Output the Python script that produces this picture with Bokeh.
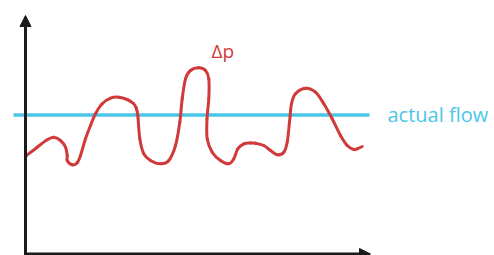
from bokeh.plotting import figure
from bokeh.models import Range1d, Arrow, NormalHead, Label
from bokeh.embed import file_html
from bokeh.resources import INLINE

# Measured pressure difference (Δp) over time, arbitrary units
t = [1, 11.7, 21.7, 28.3, 35, 40, 41.7, 41.7, 46.7, 51.7, 55, 60, 65, 70, 76.7,
     85, 93.3, 101.7, 108, 110.5, 112.3, 114.3, 118.3, 125, 135, 143.3, 150,
     154.3, 156.7, 160, 165, 173.3, 180, 183.3, 183.3, 181.5, 181.7, 186.7,
     195, 203.3, 208.3, 212.3, 218.3, 225, 230, 238.3, 245, 251.7, 258.3,
     261.7, 264, 266, 270, 280, 290, 298.3, 306.7, 315, 321.7, 328.3, 331.7,
     336.7]
dp = [98.5, 106.8, 114.2, 116.8, 113.5, 106.8, 98.5, 93.5, 89.2, 91.2, 98.5,
      115.2, 128.5, 140.2, 150.2, 155.8, 156.8, 154.5, 150.5, 146.5, 138.5,
      115.2, 100.2, 93.5, 90.2, 93.5, 108.5, 131.8, 155.2, 175.2, 183.5, 186.2,
      183.5, 175.2, 155.2, 135.2, 115.2, 101.8, 93.5, 90.2, 95.2, 105.2, 110.2,
      111, 110.8, 108.5, 103.5, 99.2, 101.8, 111.8, 131.8, 150.2, 160.2, 165.8,
      161.8, 150.2, 135.2, 118.5, 108.5, 104.5, 105.2, 107.5]

flow_level = 139
flow_x = [-12, 344]
x_axis_end = 345
y_axis_end = 238.5

RED = "#d13a3a"
CYAN = "#4bc6e9"
BLACK = "#1b1b1b"

p = figure(width=494, height=255, output_backend="svg", toolbar_location=None,
           x_range=Range1d(-25, 469), y_range=Range1d(-1.5, 253.5),
           min_border=0, outline_line_color=None)
p.axis.visible = False
p.grid.visible = False
p.background_fill_color = "white"
p.border_fill_color = "white"

# axes with arrows
p.add_layout(Arrow(x_start=0, y_start=-3, x_end=0, y_end=y_axis_end,
                   line_width=3, line_color=BLACK,
                   end=NormalHead(size=11, fill_color=BLACK, line_color=BLACK, line_width=1)))
p.add_layout(Arrow(x_start=-1.5, y_start=0, x_end=x_axis_end, y_end=0,
                   line_width=3, line_color=BLACK,
                   end=NormalHead(size=11, fill_color=BLACK, line_color=BLACK, line_width=1)))

# actual flow line
p.line(flow_x, [flow_level, flow_level], line_color=CYAN, line_width=3.5)

# Δp curve, drawn as a smooth (Catmull-Rom) bezier through the read points
n = len(t)
x0, y0, x1, y1, cx0, cy0, cx1, cy1 = [], [], [], [], [], [], [], []
for i in range(n - 1):
    a = max(i - 1, 0)
    d = min(i + 2, n - 1)
    x0.append(t[i]); y0.append(dp[i])
    x1.append(t[i + 1]); y1.append(dp[i + 1])
    cx0.append(t[i] + (t[i + 1] - t[a]) / 6)
    cy0.append(dp[i] + (dp[i + 1] - dp[a]) / 6)
    cx1.append(t[i + 1] - (t[d] - t[i]) / 6)
    cy1.append(dp[i + 1] - (dp[d] - dp[i]) / 6)
p.bezier(x0=x0, y0=y0, x1=x1, y1=y1, cx0=cx0, cy0=cy0, cx1=cx1, cy1=cy1,
         line_color=RED, line_width=3, line_cap="round")

p.add_layout(Label(x=362, y=139.5, text="actual flow", text_color=CYAN,
                   text_font="Open Sans", text_font_size="20px",
                   text_baseline="alphabetic", text_align="left"))
p.add_layout(Label(x=186, y=203, text="Δp", text_color=RED,
                   text_font="Open Sans", text_font_size="19px",
                   text_baseline="alphabetic", text_align="left"))

open("out.html", "w").write(file_html(p, INLINE))
